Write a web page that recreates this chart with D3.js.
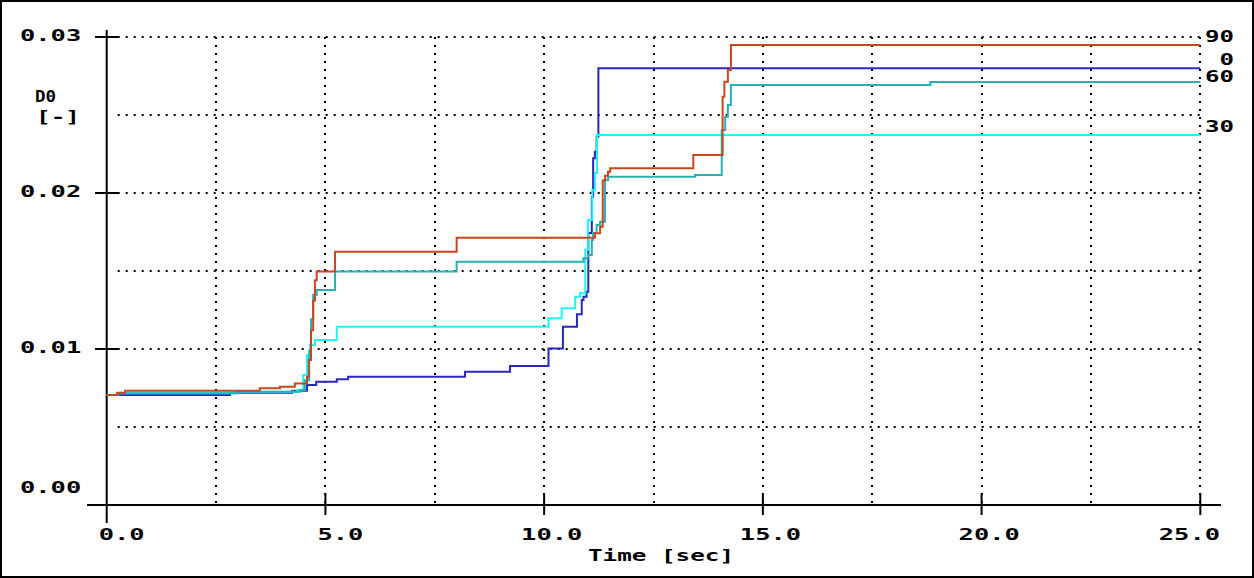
<!DOCTYPE html>
<html>
<head>
<meta charset="utf-8">
<script src="https://cdn.jsdelivr.net/npm/d3@7"></script>
<style>
  html, body { margin: 0; padding: 0; background: #fff; }
  svg { display: block; }
  text { font-family: 'DejaVu Sans Mono', monospace; font-weight: bold; fill: #000; }
</style>
</head>
<body>
<div id="chart"></div>
<script>
// series: time [sec] and D0 [-], one pair of arrays per angle
const t0 = [0, 2.82, 4.24, 4.58, 4.79, 5.26, 5.52, 8.19, 9.22, 10.10, 10.43, 10.75, 10.86, 10.90, 10.97, 11.01, 11.09, 11.12, 11.16, 11.20, 11.24, 25];
const d0 = [0.00705, 0.00720, 0.00733, 0.00769, 0.00790, 0.00806, 0.00822, 0.00854, 0.00891, 0.01004, 0.01143, 0.01222, 0.01314, 0.01335, 0.01367, 0.01744, 0.01976, 0.02222, 0.02265, 0.02361, 0.02799, 0.02799];

const t30 = [0, 0.26, 2.98, 4.35, 4.49, 4.58, 4.65, 4.76, 5.26, 10.10, 10.40, 10.71, 10.82, 10.94, 11.00, 11.10, 11.16, 11.21, 25];
const d30 = [0.00705, 0.00716, 0.00726, 0.00737, 0.00833, 0.00962, 0.01026, 0.01058, 0.01143, 0.01197, 0.01261, 0.01335, 0.01357, 0.01635, 0.01827, 0.02019, 0.02128, 0.02372, 0.02372];

const t60 = [0, 0.26, 2.98, 4.42, 4.53, 4.63, 4.67, 4.72, 4.80, 5.22, 8.00, 10.90, 11.00, 11.09, 11.12, 11.20, 11.28, 11.39, 11.46, 13.45, 14.06, 14.14, 14.20, 14.27, 18.83, 25];
const d60 = [0.00705, 0.00716, 0.00726, 0.00737, 0.0080, 0.0099, 0.0119, 0.01346, 0.01378, 0.01496, 0.0156, 0.01581, 0.01603, 0.01699, 0.01744, 0.01795, 0.01816, 0.02083, 0.02104, 0.02115, 0.02404, 0.02489, 0.02564, 0.02692, 0.02712, 0.02712];

const t90 = [0, 0.24, 0.42, 3.50, 3.96, 4.30, 4.58, 4.62, 4.67, 4.72, 4.76, 4.80, 5.22, 8.00, 11.16, 11.28, 11.34, 11.39, 11.46, 11.51, 13.41, 14.08, 14.12, 14.20, 14.27, 25];
const d90 = [0.00705, 0.00720, 0.00733, 0.00748, 0.00758, 0.00779, 0.00822, 0.0093, 0.0112, 0.0131, 0.0144, 0.01496, 0.01624, 0.01713, 0.01742, 0.01784, 0.0208, 0.0211, 0.02137, 0.02158, 0.02244, 0.02617, 0.02713, 0.02788, 0.02949, 0.02949];

const seriesNames = ['0', '30', '60', '90'];
const xTicks = [0, 5, 10, 15, 20, 25];
const yTicks = [0, 0.01, 0.02, 0.03];
const xTickLabels = ['0.0', '5.0', '10.0', '15.0', '20.0', '25.0'];
const yTickLabels = ['0.00', '0.01', '0.02', '0.03'];

const width = 1254, height = 578;
const colors = { '0': '#2828c0', '30': '#1ef6f6', '60': '#26b2b4', '90': '#c8461e' };

const x = d3.scaleLinear().domain([0, 25]).range([106.7, 1200.3]);
const y = d3.scaleLinear().domain([0, 0.03]).range([505, 37]);

const svg = d3.select('#chart').append('svg')
  .attr('width', width)
  .attr('height', height);

// wide bitmap-like text: stretch glyphs to ~15px per character
const CW = 15.3;
function label(str, lx, ly, w) {
  return svg.append('text')
    .attr('font-size', 15)
    .attr('x', lx)
    .attr('y', ly)
    .attr('textLength', w || str.length * CW)
    .attr('lengthAdjust', 'spacingAndGlyphs')
    .text(str);
}

// frame
svg.append('rect')
  .attr('x', 1).attr('y', 1)
  .attr('width', width - 2).attr('height', height - 2)
  .attr('fill', 'none').attr('stroke', '#000').attr('stroke-width', 2);

// dotted grid
const grid = svg.append('g')
  .attr('stroke', '#000')
  .attr('stroke-width', 2)
  .attr('stroke-dasharray', '2,6');

grid.selectAll('line.gx')
  .data(d3.range(1, 11).map((i) => i * 2.5))
  .join('line')
  .attr('x1', (d) => Math.round(x(d))).attr('x2', (d) => Math.round(x(d)))
  .attr('y1', y(0.03)).attr('y2', y(0));

grid.selectAll('line.gy')
  .data(d3.range(1, 7).map((i) => i * 0.005))
  .join('line')
  .attr('x1', x(0) + 11).attr('x2', x(25))
  .attr('y1', (d) => Math.round(y(d))).attr('y2', (d) => Math.round(y(d)));

// axes
const axes = svg.append('g').attr('stroke', '#000').attr('stroke-width', 2);
axes.append('line')
  .attr('x1', x(0)).attr('x2', x(0))
  .attr('y1', 30).attr('y2', 523);
axes.append('line')
  .attr('x1', 87).attr('x2', 1221)
  .attr('y1', y(0)).attr('y2', y(0));
axes.selectAll('line.tx')
  .data(xTicks.slice(1))
  .join('line')
  .attr('x1', (d) => x(d)).attr('x2', (d) => x(d))
  .attr('y1', y(0) - 12).attr('y2', y(0) + 10);
axes.selectAll('line.ty')
  .data(yTicks.slice(1))
  .join('line')
  .attr('x1', 95).attr('x2', 118)
  .attr('y1', (d) => y(d)).attr('y2', (d) => y(d));

// tick labels
xTicks.forEach((d, i) => {
  const s = xTickLabels[i];
  const start = Math.min(x(d) - 8 - (s.length - 3) * 15, 1220 - s.length * CW);
  label(s, start, 540);
});

yTicks.forEach((d, i) => {
  label(yTickLabels[i], 20, Math.min(y(d) + 4, 493));
});

label('Time [sec]', 588, 561, 146);
label('D0', 35, 102, 21);
label('[-]', 36, 122, 44);

// lines
const series = [
  { name: '0', t: t0, d: d0 },
  { name: '30', t: t30, d: d30 },
  { name: '60', t: t60, d: d60 },
  { name: '90', t: t90, d: d90 }
];

const line = d3.line()
  .x((p) => x(p[0]))
  .y((p) => y(p[1]))
  .curve(d3.curveStepAfter);

svg.append('g')
  .selectAll('path')
  .data(series)
  .join('path')
  .attr('fill', 'none')
  .attr('stroke', (s) => colors[s.name])
  .attr('stroke-width', 2)
  .attr('d', (s) => line(s.t.map((t, i) => [t, s.d[i]])));

// end labels, pushed apart where they would collide
const ends = series
  .map((s) => ({ name: s.name, cy: y(s.d[s.d.length - 1]) - 8 }))
  .sort((a, b) => a.cy - b.cy);
for (let i = 1; i < ends.length; i++) {
  if (ends[i].cy < ends[i - 1].cy + 17) ends[i].cy = ends[i - 1].cy + 17;
}

ends.forEach((e) => {
  const w = e.name.length * 14.5;
  label(e.name, 1234 - w, e.cy + 5, w);
});
</script>
</body>
</html>
